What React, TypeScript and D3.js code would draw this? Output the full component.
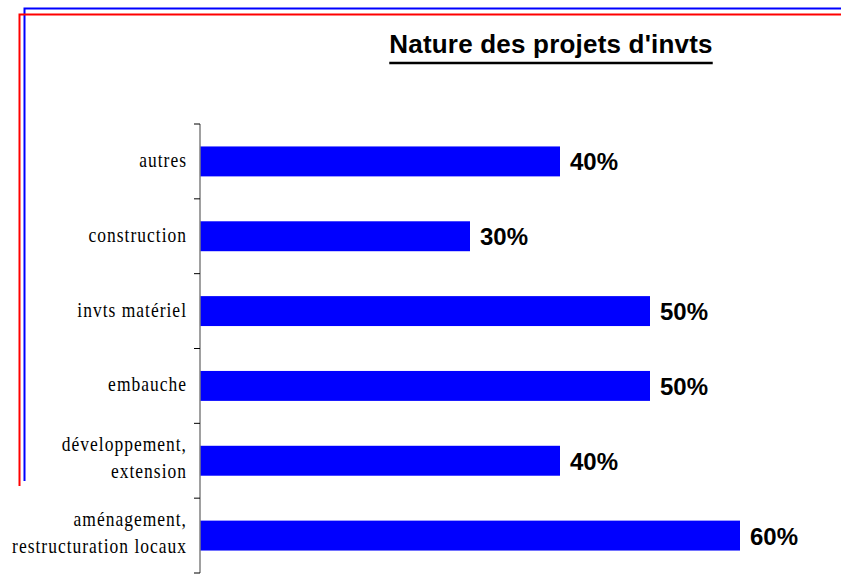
import { useEffect, useRef } from 'react';
import * as d3 from 'd3';

const categories = [
  'autres',
  'construction',
  'invts matériel',
  'embauche',
  'développement,\nextension',
  'aménagement,\nrestructuration locaux',
];
const values = [40, 30, 50, 50, 40, 60];
const title = "Nature des projets d'invts";

export default function App() {
  const svgRef = useRef<SVGSVGElement>(null);
  const width = 841;
  const height = 581;

  useEffect(() => {
    if (!svgRef.current) return;
    const svg = d3.select(svgRef.current);
    svg.selectAll('*').remove();

    // frame lines (blue + red double border)
    svg.append('path')
      .attr('d', 'M24.5,481 V8.5 H841')
      .attr('fill', 'none')
      .attr('stroke', '#0000FF')
      .attr('stroke-width', 2);
    svg.append('path')
      .attr('d', 'M19.5,486 V14.5 H841')
      .attr('fill', 'none')
      .attr('stroke', '#FF0000')
      .attr('stroke-width', 2);

    const xScale = d3.scaleLinear().domain([0, 60]).range([200, 740]);
    const yScale = d3.scaleBand<string>().domain(categories).range([124, 573]).padding(0);
    const bw = yScale.bandwidth();

    // bars
    svg.selectAll('.bar')
      .data(values)
      .join('rect')
      .attr('class', 'bar')
      .attr('x', xScale(0))
      .attr('y', (_, i) => (yScale(categories[i]) ?? 0) + bw * 0.3)
      .attr('width', d => xScale(d) - xScale(0))
      .attr('height', bw * 0.4)
      .attr('fill', '#0000FF');

    // axis line + ticks
    const axisX = xScale(0);
    svg.append('line')
      .attr('x1', axisX).attr('x2', axisX)
      .attr('y1', 124).attr('y2', 573)
      .attr('stroke', '#808080')
      .attr('stroke-width', 1.5);
    const tickYs = categories.map(c => yScale(c) ?? 0).concat([(yScale(categories[categories.length - 1]) ?? 0) + bw]);
    svg.selectAll('.tick')
      .data(tickYs)
      .join('line')
      .attr('class', 'tick')
      .attr('x1', axisX - 6).attr('x2', axisX)
      .attr('y1', d => d).attr('y2', d => d)
      .attr('stroke', '#000')
      .attr('stroke-width', 1);

    // category labels (slightly stretched vertically like the original)
    const sy = 1.2;
    categories.forEach(c => {
      const lines = c.split('\n');
      const cy = (yScale(c) ?? 0) + bw / 2;
      const g = svg.append('g')
        .attr('transform', `translate(0,${cy}) scale(1,${sy})`);
      const t = g.append('text')
        .attr('text-anchor', 'end')
        .style('font-family', '"Liberation Serif", "DejaVu Serif", serif')
        .style('font-size', '17.5px')
        .style('letter-spacing', '1px')
        .style('fill', '#000');
      lines.forEach((l, i) => {
        const off = lines.length > 1 ? 4 + (i - (lines.length - 1) / 2) * 27 : 5.5;
        t.append('tspan')
          .attr('x', 187)
          .attr('y', off / sy)
          .text(l);
      });
    });

    // value labels
    svg.selectAll('.val')
      .data(values)
      .join('text')
      .attr('class', 'val')
      .attr('x', d => xScale(d) + 10)
      .attr('y', (_, i) => (yScale(categories[i]) ?? 0) + bw / 2 + 9)
      .style('font-family', '"Liberation Sans", Arial, sans-serif')
      .style('font-weight', 'bold')
      .style('font-size', '24px')
      .style('fill', '#000')
      .text(d => `${d}%`);

    // title with underline
    const titleText = svg.append('text')
      .attr('x', 551)
      .attr('y', 53)
      .attr('text-anchor', 'middle')
      .style('font-family', '"Liberation Sans", Arial, sans-serif')
      .style('font-weight', 'bold')
      .style('font-size', '26px')
      .style('letter-spacing', '0.2px')
      .style('fill', '#000')
      .text(title);
    const tw = (titleText.node() as SVGTextElement).getComputedTextLength();
    svg.append('line')
      .attr('x1', 551 - tw / 2).attr('x2', 551 + tw / 2)
      .attr('y1', 63).attr('y2', 63)
      .attr('stroke', '#000')
      .attr('stroke-width', 2.5);
  }, []);

  return (
    <svg
      ref={svgRef}
      width={width}
      height={height}
      viewBox={`0 0 ${width} ${height}`}
      style={{ position: 'absolute', left: 0, top: 0, background: '#fff' }}
    />
  );
}
